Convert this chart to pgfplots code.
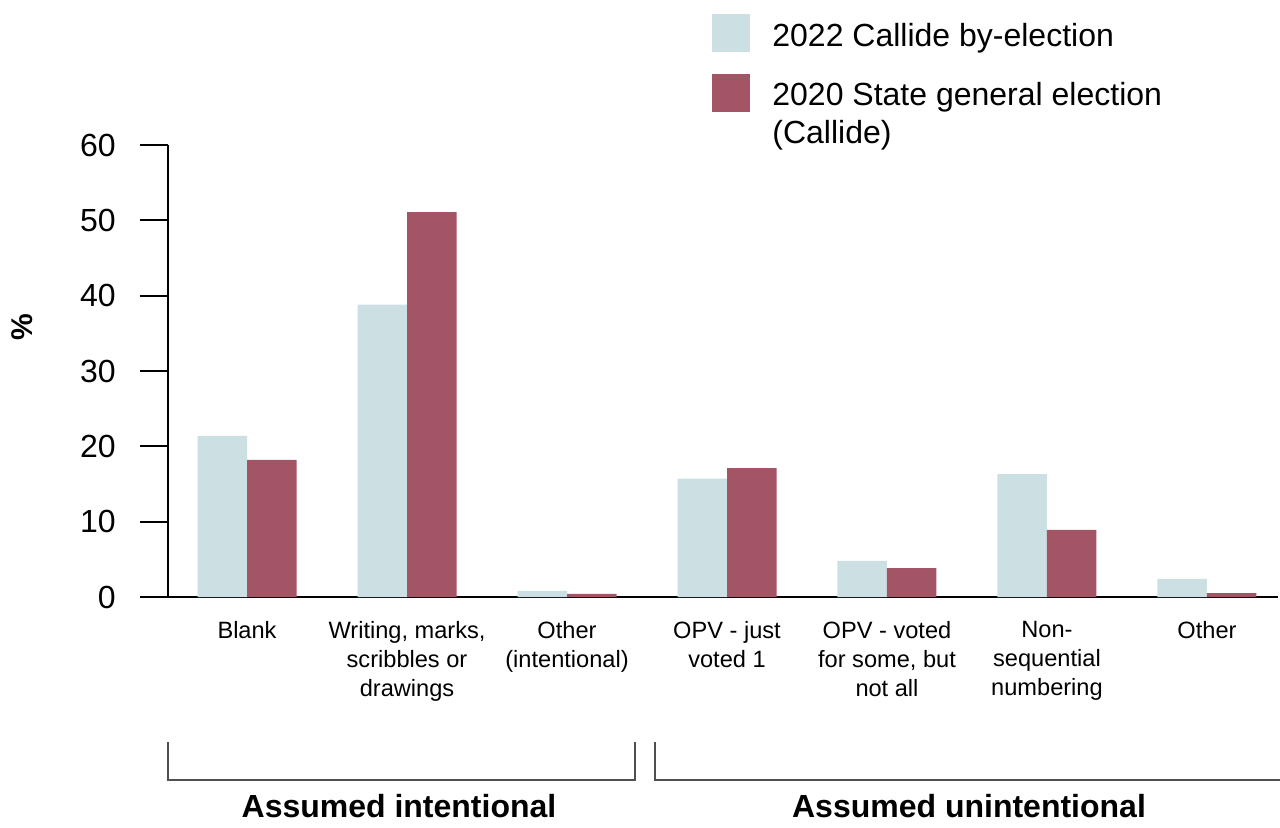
\documentclass[border=0pt]{standalone}
\usepackage{pgfplots}
\pgfplotsset{compat=1.18}
\usepackage{fontspec}
\setmainfont{Liberation Sans}
\definecolor{lightbar}{HTML}{CCDFE3}
\definecolor{darkbar}{HTML}{A35465}
\definecolor{brk}{HTML}{505050}
\begin{document}
\begin{tikzpicture}
\useasboundingbox (-84pt,-115pt) rectangle (556pt,298.5pt);
\begin{axis}[
  at={(0pt,0pt)}, anchor=south west,
  scale only axis, width=555pt, height=226pt,
  clip=false,
  ybar=0pt, bar width=24.75pt,
  xmin=-0.494, xmax=6.444, ymin=0, ymax=60,
  axis x line*=bottom, axis y line*=left,
  axis line style={line width=1.2pt, black},
  ytick={0,10,20,30,40,50,60},
  tick align=outside, major tick length=14pt,
  major tick style={line width=1pt, black},
  xtick style={draw=none},
  xtick={0,1,2,3,4,5,6},
  xticklabels={Blank, {Writing, marks,\\scribbles or\\drawings}, {Other\\(intentional)}, {OPV - just\\voted 1}, {OPV - voted\\for some, but\\not all}, {Non-\\sequential\\numbering}, Other},
  xticklabel style={font=\fontsize{11.8}{14.5}\selectfont, align=center, anchor=north, inner sep=0pt, yshift=2pt},
  yticklabel style={font=\fontsize{16}{19}\selectfont, anchor=east, inner sep=0pt, xshift=-12pt},
  /pgf/number format/assume math mode=true,
  ylabel={\%},
  ylabel style={font=\bfseries\fontsize{15}{18}\selectfont, at={(axis description cs:-0.1315,0.5973)}, anchor=center},
  legend cell align=left,
  legend style={at={(axis description cs:0.4901,1.2898)}, anchor=north west, draw=none, fill=none, inner sep=0pt,
    font=\fontsize{16}{19}\selectfont, row sep=11pt, column sep=11pt,
    nodes={inner sep=0pt, align=left}},
]
\addplot[fill=lightbar, draw=none, legend image code/.code={\fill[lightbar] (0pt,-7.9pt) rectangle (19pt,11.1pt);}]
  coordinates {(0,21.4) (1,38.8) (2,0.8) (3,15.7) (4,4.8) (5,16.3) (6,2.4)};
\addplot[fill=darkbar, draw=none, legend image code/.code={\fill[darkbar] (0pt,1.1pt) rectangle (19pt,20.1pt);}]
  coordinates {(0,18.2) (1,51.1) (2,0.4) (3,17.1) (4,3.85) (5,8.9) (6,0.5)};
\legend{2022 Callide by-election, {2020 State general election\\(Callide)}}
\end{axis}
\draw[brk, line width=0.75pt] (0pt,-72.5pt) -- (0pt,-91.5pt) -- (233.5pt,-91.5pt) -- (233.5pt,-72.5pt);
\draw[brk, line width=0.75pt] (243.5pt,-72.5pt) -- (243.5pt,-91.5pt) -- (560pt,-91.5pt);
\node[font=\bfseries\fontsize{16}{19}\selectfont, anchor=base, inner sep=0pt] at (115.5pt,-110pt) {Assumed intentional};
\node[font=\bfseries\fontsize{16}{19}\selectfont, anchor=base, inner sep=0pt] at (400.5pt,-110pt) {Assumed unintentional};
\end{tikzpicture}
\end{document}
